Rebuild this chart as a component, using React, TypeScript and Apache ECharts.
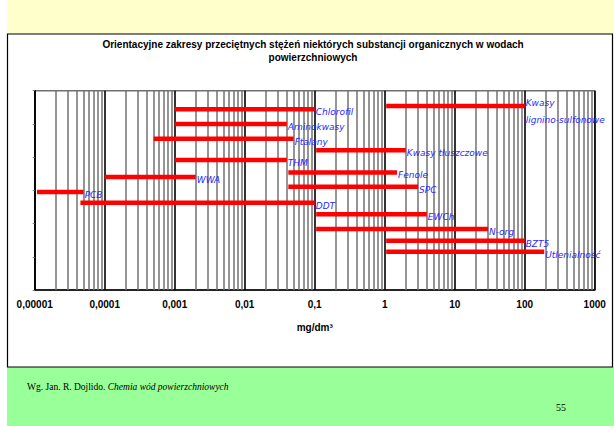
import React, { useEffect, useRef } from "react";
import * as echarts from "echarts";

// ---- data ----
const substances = [
  "Chlorofil",
  "Kwasy\nlignino-sulfonowe",
  "Aminokwasy",
  "Ftalany",
  "Kwasy tłuszczowe",
  "THM",
  "Fenole",
  "WWA",
  "SPC",
  "PCB",
  "DDT",
  "EWCh",
  "N-org",
  "BZT5",
  "Utlenialność",
];
const rangeMin = [0.001, 1.05, 0.001, 0.0005, 0.105, 0.001, 0.042, 0.0001, 0.042, 0.0000108, 0.000045, 0.105, 0.105, 1.05, 1.05];
const rangeMax = [0.1, 100, 0.04, 0.05, 2, 0.04, 1.5, 0.002, 3, 0.00005, 0.1, 4, 30, 100, 190];
const rowLevel = [5.44, 5.54, 5.0, 4.55, 4.21, 3.91, 3.54, 3.4, 3.11, 2.95, 2.63, 2.28, 1.84, 1.48, 1.15];
const xTickLabels = ["0,00001", "0,0001", "0,001", "0,01", "0,1", "1", "10", "100", "1000"];
const decadeExponents = [-5, -4, -3, -2, -1, 0, 1, 2];
const minorMultipliers = [2, 3, 4, 5, 6, 7, 8, 9];
const yMin = 0;
const yMax = 6;

export default function App() {
  const ref = useRef<HTMLDivElement>(null);

  useEffect(() => {
    if (!ref.current) return;
    const chart = echarts.init(ref.current, undefined, { renderer: "svg" });

    const minorValues: number[] = [];
    decadeExponents.forEach((e) => {
      minorMultipliers.forEach((m) => {
        minorValues.push(m * Math.pow(10, e));
      });
    });

    const barSeries = substances.map((name, i) => ({
      type: "line",
      name,
      z: 5,
      data: [
        [rangeMin[i], rowLevel[i]],
        [rangeMax[i], rowLevel[i]],
      ],
      showSymbol: false,
      symbol: "none",
      silent: true,
      lineStyle: { color: "#FF0000", width: 4.5, cap: "butt" },
      endLabel: {
        show: true,
        formatter: () => name,
        distance: 1,
        offset: name.indexOf("\n") >= 0 ? [0, 6] : [0, 3],
        color: "#2a2aff",
        fontFamily: "DejaVu Sans",
        fontStyle: "italic",
        fontSize: 9,
        lineHeight: 17,
        align: "left",
      },
    }));

    chart.setOption({
      animation: false,
      backgroundColor: "#ffffff",
      graphic: [
        { type: "rect", z: -10, shape: { x: 7, y: 0, width: 607, height: 34 }, style: { fill: "#FFFFCC" } },
        { type: "rect", z: -10, shape: { x: 7, y: 367, width: 607, height: 59 }, style: { fill: "#99FF99" } },
        {
          type: "rect",
          z: -9,
          shape: { x: 7.5, y: 34, width: 605, height: 333 },
          style: { fill: "#ffffff", stroke: "#000000", lineWidth: 1.2 },
        },
        {
          type: "text",
          z: 10,
          left: 27,
          top: 382,
          style: {
            text: "{a|Wg. Jan. R. Dojlido. }{b|Chemia wód powierzchniowych}",
            rich: {
              a: { fontFamily: "Liberation Serif", fontSize: 9.5, fill: "#000" },
              b: { fontFamily: "Liberation Serif", fontSize: 9.5, fontStyle: "italic", fill: "#000" },
            },
          },
        },
        {
          type: "text",
          z: 10,
          left: 556,
          top: 402,
          style: { text: "55", fontFamily: "Liberation Serif", fontSize: 10, fill: "#000" },
        },
      ],
      title: {
        text: "Orientacyjne zakresy przeciętnych stężeń niektórych substancji organicznych w wodach\npowierzchniowych",
        left: 313,
        top: 38,
        textAlign: "center",
        padding: 0,
        textStyle: {
          fontFamily: "Liberation Sans",
          fontWeight: "bold",
          fontSize: 10,
          lineHeight: 13,
          color: "#000",
        },
      },
      grid: {
        left: 34.7,
        right: 19.3,
        top: 90.7,
        bottom: 136,
        show: true,
        borderColor: "#707070",
        borderWidth: 1.4,
        backgroundColor: "transparent",
      },
      xAxis: {
        type: "log",
        logBase: 10,
        min: 0.00001,
        max: 1000,
        splitNumber: 8,
        name: "mg/dm³",
        nameLocation: "middle",
        nameGap: 32,
        nameTextStyle: { fontFamily: "Liberation Sans", fontWeight: "bold", fontSize: 10, color: "#000" },
        axisLine: { show: true, lineStyle: { color: "#000", width: 1.6 } },
        axisTick: { show: false },
        axisLabel: {
          margin: 9,
          fontFamily: "Liberation Sans",
          fontWeight: "bold",
          fontSize: 10,
          color: "#000",
          formatter: (v: number) => {
            const idx = Math.round(Math.log10(v)) + 5;
            return xTickLabels[idx] ?? "";
          },
        },
        splitLine: { show: true, lineStyle: { color: "#000", width: 1.6 } },
      },
      yAxis: {
        type: "value",
        min: yMin,
        max: yMax,
        interval: 1,
        axisLine: { show: true, lineStyle: { color: "#000", width: 1.6 } },
        axisTick: { show: true, length: 2, lineStyle: { color: "#808080" } },
        axisLabel: { show: false },
        splitLine: { show: false },
      },
      series: [
        {
          type: "lines",
          coordinateSystem: "cartesian2d",
          name: "minor",
          z: 1,
          silent: true,
          lineStyle: { color: "#727272", width: 1.5, opacity: 1, type: "solid" },
          data: minorValues.map((v) => ({ coords: [[v, yMin], [v, yMax]] })),
        },
        ...barSeries,
      ],
    });

    return () => chart.dispose();
  }, []);

  return (
    <div
      ref={ref}
      style={{ position: "fixed", left: 0, top: 0, width: 614, height: 426 }}
    />
  );
}
